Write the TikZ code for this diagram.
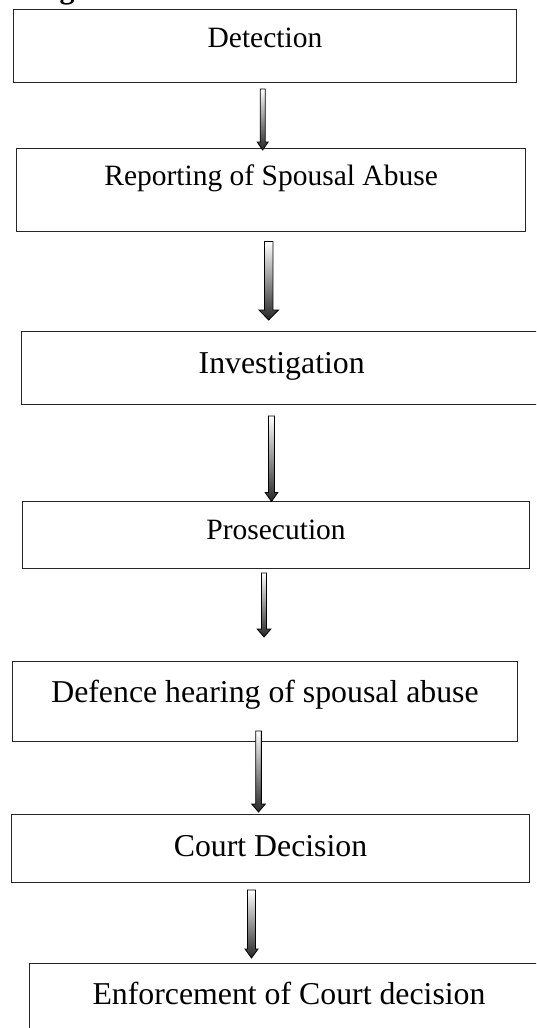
\documentclass[tikz,border=0pt]{standalone}
\usepackage{fontspec}
\setmainfont{Liberation Serif}
\usetikzlibrary{calc,positioning}

\tikzset{
  stage/.style={draw=black!85, line width=1pt, inner sep=0pt, anchor=north west, align=center},
  smalltext/.style={font=\fontsize{29.5}{34}\selectfont},
  largetext/.style={font=\fontsize{31.8}{36}\selectfont},
  blockarrow/.style n args={3}{to path={let \p1=(\tikztostart), \p2=(\tikztotarget) in
      (\x1-0.5*#1,\y1) -- (\x1+0.5*#1,\y1) -- (\x1+0.5*#1,\y2+#3) -- (\x1+0.5*#2,\y2+#3)
      -- (\x1,\y2) -- (\x1-0.5*#2,\y2+#3) -- (\x1-0.5*#1,\y2+#3) -- cycle}},
  flow/.style={draw=black, line width=0.8pt, top color=white, bottom color=black!85},
}

\begin{document}
\begin{tikzpicture}[x=1pt, y=1pt]
        \clip (0, 0) rectangle (536, -1028);
        % caption cut off at the top
        \node[font=\bfseries\fontsize{30}{36}\selectfont, anchor=base] (fig) at (67, 1.5) {g};

        % stages
        \node[stage, smalltext, minimum width=502.3pt, text height=38.3pt, text depth=35.2pt] (det) at (13.3, -8.5) {Detection};
        \node[stage, smalltext, minimum width=508.4pt, text height=36.7pt, text depth=45.8pt] (rep) at (16.4, -148) {Reporting of Spousal Abuse};
        \node[stage, largetext, minimum width=520pt, text height=42pt, text depth=31pt] (inv) at (21.2, -331) {Investigation};
        \node[stage, smalltext, minimum width=506.7pt, text height=38.5pt, text depth=29pt] (pro) at (22.2, -500.5) {Prosecution};
        \node[stage, largetext, minimum width=505pt, text height=41pt, text depth=39pt] (def) at (12, -661) {Defence hearing of spousal abuse};
        \node[stage, largetext, minimum width=518pt, text height=41.6pt, text depth=26.4pt] (crt) at (11, -814) {Court Decision};
        \node[stage, largetext, minimum width=519pt, text height=41.4pt, text depth=80pt] (enf) at (29, -962.6) {Enforcement of Court decision};

        % arrows
        \foreach \a/\b/\dx/\ds/\de/\sw/\hw/\hl in {
                det/rep/-2.3/-6/-2/5pt/11pt/8pt,
                rep/inv/-2.4/-10/11/8.5pt/19.5pt/10pt,
                inv/pro/-10.2/-11/-1/6pt/12.6pt/9pt,
                pro/def/-12/-4/24/5pt/13.7pt/8pt,
                def/crt/-6.5/11/2/5.7pt/13.6pt/8pt,
                crt/enf/-19/-7/4.6/7.9pt/13pt/9pt}
                \draw[flow, blockarrow={\sw}{\hw}{\hl}] ([xshift=\dx, yshift=\ds]\a.south) to ([yshift=\de]\b.north);
\end{tikzpicture}
\end{document}
